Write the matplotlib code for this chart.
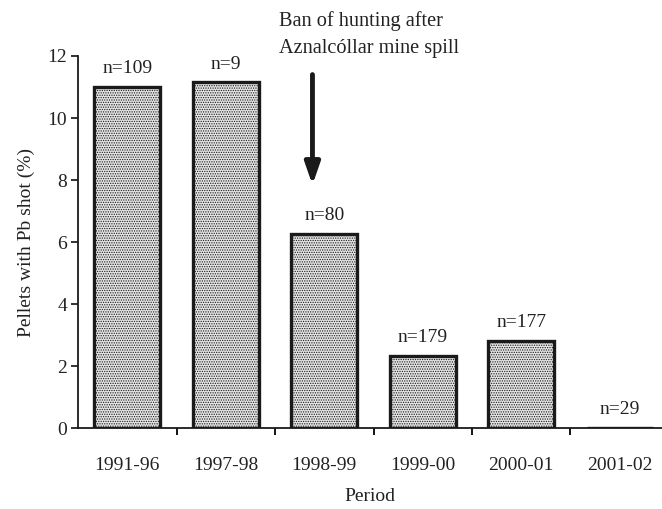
import numpy as np
import matplotlib.pyplot as plt

periods = ['1991-96', '1997-98', '1998-99', '1999-00', '2000-01', '2001-02']
pb_pct = [11.0, 11.15, 6.26, 2.32, 2.82, 0.0]
n_labels = ['n=109', 'n=9', 'n=80', 'n=179', 'n=177', 'n=29']

plt.rcParams['font.family'] = ['Liberation Serif', 'DejaVu Serif']
plt.rcParams['hatch.color'] = '#8a8a8a'
plt.rcParams['hatch.linewidth'] = 0.6

fig = plt.figure(figsize=(6.62, 5.09), dpi=100)
ax = fig.add_axes([0.118, 0.159, 0.882, 0.731])

x = np.arange(len(periods))
ax.bar(x, pb_pct, width=0.67, facecolor='#e4e4e4', edgecolor='#1a1a1a',
       linewidth=2.4, hatch='.......', zorder=2)

for xi, v, lab in zip(x, pb_pct, n_labels):
    ax.annotate(lab, (xi, v), xytext=(0, 7), textcoords='offset points',
                ha='center', va='bottom', fontsize=14, color='#222222')

# arrow + note about the ban
ax.annotate('', xy=(1.88, 7.84), xytext=(1.88, 11.4),
            arrowprops=dict(arrowstyle='-|>,head_width=0.45,head_length=1.3',
                            lw=3.5, color='#1a1a1a', shrinkA=0, shrinkB=0),
            annotation_clip=False)
ax.text(1.54, 11.95, 'Ban of hunting after\nAznalcóllar mine spill', ha='left',
        va='bottom', fontsize=14.6, color='#222222', linespacing=1.55,
        clip_on=False)

ax.set_xlim(-0.5, 5.43)
ax.set_ylim(0, 12)
ax.set_yticks([0, 2, 4, 6, 8, 10, 12])
ax.set_xticks(x)
ax.set_xticklabels(periods)
ax.set_xticks(np.arange(0.5, 5.5, 1.0), minor=True)
ax.tick_params(axis='x', which='major', length=0, pad=21, labelsize=14,
               colors='#222222')
ax.tick_params(axis='x', which='minor', length=5, width=1.3, direction='out')
ax.tick_params(axis='y', length=5, width=1.3, labelsize=14, colors='#222222',
               pad=3)

for s in ['top', 'right']:
    ax.spines[s].set_visible(False)
for s in ['left', 'bottom']:
    ax.spines[s].set_linewidth(1.3)
    ax.spines[s].set_color('#1a1a1a')

ax.set_ylabel('Pellets with Pb shot (%)', fontsize=14, color='#222222',
              labelpad=9)
ax.set_xlabel('Period', fontsize=14, color='#222222', labelpad=10)

fig.savefig('out.png', dpi=100)
